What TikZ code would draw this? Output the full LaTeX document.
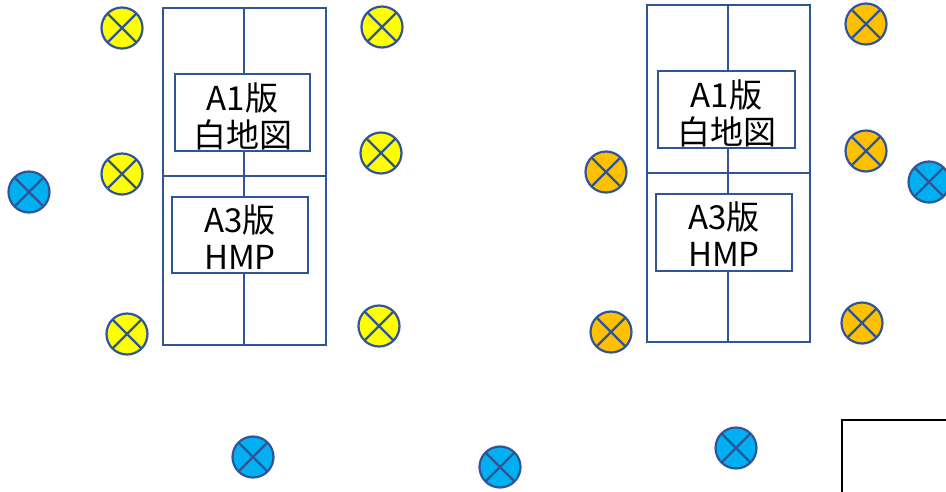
\documentclass[tikz,border=0pt]{standalone}
\usepackage{fontspec}
\setmainfont{Noto Sans CJK JP}
\usepackage{tikz}
\definecolor{planblue}{HTML}{2F5597}
\definecolor{lampyellow}{HTML}{FFFF00}
\definecolor{lamporange}{HTML}{FFC000}
\definecolor{lampblue}{HTML}{00B0F0}

\begin{document}
\begin{tikzpicture}[x=1pt,y=-1pt,
  plan/.style={draw=planblue,line width=2.2pt},
  board/.style={plan,fill=white,inner sep=0pt},
  caption/.style={inner sep=0pt,align=center,
    font=\fontsize{33}{37}\selectfont},
  lamp/.style={circle,draw=planblue,line width=2.2pt,minimum size=41pt,
    inner sep=0pt,path picture={
      \draw[planblue,line width=2.2pt] (path picture bounding box.north west)
        -- (path picture bounding box.south east)
        (path picture bounding box.north east)
        -- (path picture bounding box.south west);}},
  yl/.style={lamp,fill=lampyellow},
  ol/.style={lamp,fill=lamporange},
  bl/.style={lamp,fill=lampblue}]
\useasboundingbox (0,0) rectangle (946,491);
\clip (0,0) rectangle (946,491);
% left court
\draw [plan] (163,8) rectangle (326,345);
\draw [plan] (163,176) -- (326,176);
\draw [plan] (244,8) -- (244,345);
\node [board,minimum width=135pt,minimum height=77pt] (boxA1l) at (242.5,112.5) {};
\node [board,minimum width=136pt,minimum height=76pt] (boxA3l) at (240,235) {};
\node [caption] (txtA1l) at ([yshift=-4pt]boxA1l.center) {A1版\\白地図};
\node [caption] (txtA3l) at ([yshift=-2pt]boxA3l.center) {A3版\\HMP};
% right court
\draw [plan] (647,5) rectangle (810,342);
\draw [plan] (647,173) -- (810,173);
\draw [plan] (728,5) -- (728,342);
\node [board,minimum width=137pt,minimum height=77pt] (boxA1r) at (726.5,109.5) {};
\node [board,minimum width=136pt,minimum height=77pt] (boxA3r) at (724,232.5) {};
\node [caption] (txtA1r) at ([yshift=-4pt]boxA1r.center) {A1版\\白地図};
\node [caption] (txtA3r) at ([yshift=-2pt]boxA3r.center) {A3版\\HMP};
% lamps
\node [yl] (y1) at (122,28) {};
\node [yl] (y2) at (382,27) {};
\node [yl] (y3) at (381,153) {};
\node [yl] (y4) at (122,174) {};
\node [yl] (y5) at (127,334) {};
\node [yl] (y6) at (379,326) {};
\node [ol] (o1) at (866,24) {};
\node [ol] (o2) at (866,151) {};
\node [ol] (o3) at (606,172) {};
\node [ol] (o4) at (611,332) {};
\node [ol] (o5) at (862,323) {};
\node [bl] (b1) at (29,192) {};
\node [bl] (b2) at (253,457) {};
\node [bl] (b3) at (500,467) {};
\node [bl] (b4) at (736,448) {};
\node [bl] (b5) at (929,182) {};
% stage corner
\draw [black,line width=2.4pt] (842,495) -- (842,420) -- (950,420);
\end{tikzpicture}
\end{document}
